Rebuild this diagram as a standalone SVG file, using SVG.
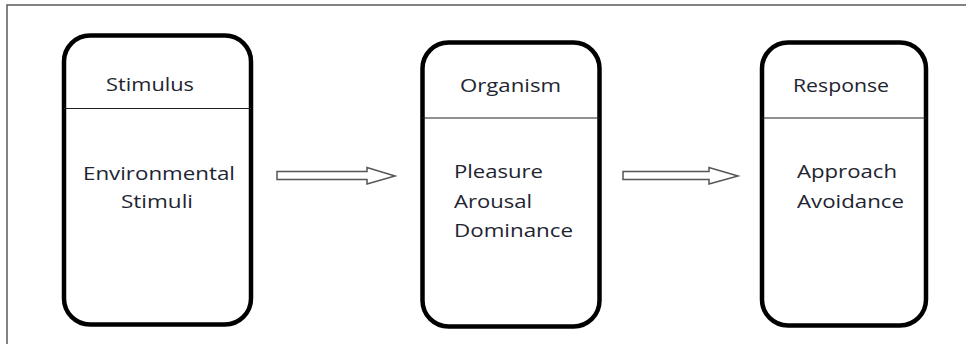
<svg xmlns="http://www.w3.org/2000/svg" width="966" height="344" viewBox="0 0 966 344">
  <style>
    .frame { fill: none; stroke: #5a5a5a; stroke-width: 1.5; }
    .box { fill: #ffffff; stroke: #000000; stroke-width: 4.5; }
    .div { stroke: #222222; stroke-width: 1.2; }
    .t { font-family: "Open Sans", "Liberation Sans", sans-serif; font-size: 19px; fill: #1e2430; }
    .arrow { fill: #ffffff; stroke: #555555; stroke-width: 1.5; stroke-linejoin: miter; }
  </style>
  <rect x="0" y="0" width="966" height="344" fill="#ffffff"/>
  <rect class="frame" x="7" y="5" width="980" height="360"/>

  <g id="stimulus">
    <rect class="box" x="64" y="35.5" width="187" height="289" rx="26" ry="26"/>
    <line class="div" x1="64" y1="108.5" x2="251" y2="108.5"/>
    <text class="t" x="106" y="91" textLength="88" lengthAdjust="spacingAndGlyphs">Stimulus</text>
    <text class="t" x="83" y="180" textLength="152" lengthAdjust="spacingAndGlyphs">Environmental</text>
    <text class="t" x="121" y="208" textLength="72" lengthAdjust="spacingAndGlyphs">Stimuli</text>
  </g>

  <g id="organism">
    <rect class="box" x="422.5" y="42.5" width="177" height="284" rx="26" ry="26"/>
    <line class="div" x1="422.5" y1="118" x2="599.5" y2="118"/>
    <text class="t" x="460" y="92" textLength="101" lengthAdjust="spacingAndGlyphs">Organism</text>
    <text class="t" x="454" y="178" textLength="89" lengthAdjust="spacingAndGlyphs">Pleasure</text>
    <text class="t" x="454" y="208" textLength="78" lengthAdjust="spacingAndGlyphs">Arousal</text>
    <text class="t" x="454" y="237" textLength="119" lengthAdjust="spacingAndGlyphs">Dominance</text>
  </g>

  <g id="response">
    <rect class="box" x="762" y="42.5" width="164" height="283" rx="26" ry="26"/>
    <line class="div" x1="762" y1="118" x2="926" y2="118"/>
    <text class="t" x="793" y="92" textLength="96" lengthAdjust="spacingAndGlyphs">Response</text>
    <text class="t" x="797" y="178" textLength="100" lengthAdjust="spacingAndGlyphs">Approach</text>
    <text class="t" x="797" y="208" textLength="107" lengthAdjust="spacingAndGlyphs">Avoidance</text>
  </g>

  <g id="connectors">
    <polygon class="arrow" points="277,171.5 367,171.5 367,167.5 395,176 367,184 367,179.5 277,179.5"/>
    <polygon class="arrow" points="623,171.5 709,171.5 709,167.5 738,176 709,184 709,179.5 623,179.5"/>
  </g>
</svg>
